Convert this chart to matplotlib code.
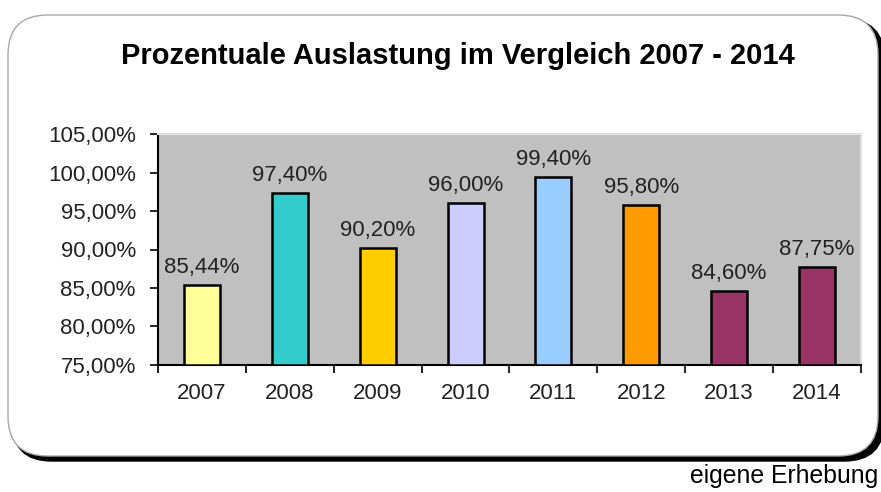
import matplotlib
matplotlib.use('Agg')
import matplotlib.pyplot as plt
from matplotlib.patches import FancyBboxPatch
import numpy as np

# Daten aus dem Bild
jahre = ['2007', '2008', '2009', '2010', '2011', '2012', '2013', '2014']
auslastung = [85.44, 97.40, 90.20, 96.00, 99.40, 95.80, 84.60, 87.75]
farben = ['#FFFF99', '#33CCCC', '#FFCC00', '#CCCCFF', '#99CCFF', '#FF9900', '#993366', '#993366']
y_ticks = [75, 80, 85, 90, 95, 100, 105]

plt.rcParams['font.family'] = ['Liberation Sans', 'DejaVu Sans']

W, H = 881, 492
fig = plt.figure(figsize=(W / 100, H / 100), dpi=100)
fig.patch.set_facecolor('white')

# Rahmen mit Schatten (Karte)
shadow = FancyBboxPatch((12 / W, 1 - 461 / H), 872 / W, 442 / H,
                        boxstyle='round,pad=0,rounding_size=0.045', transform=fig.transFigure,
                        facecolor='black', edgecolor='black', zorder=0, mutation_aspect=W / H)
card = FancyBboxPatch((8 / W, 1 - 456 / H), 870 / W, 441 / H,
                      boxstyle='round,pad=0,rounding_size=0.045', transform=fig.transFigure,
                      facecolor='white', edgecolor='#A8A8A8', linewidth=1, zorder=1,
                      mutation_aspect=W / H)
fig.patches.extend([shadow, card])

ax = fig.add_axes([158 / W, 1 - 365 / H, (861 - 158) / W, (365 - 134) / H])
ax.set_zorder(2)
ax.set_facecolor('#C0C0C0')

x = np.arange(len(jahre))
ax.bar(x, [v - 75 for v in auslastung], bottom=75, width=0.41, color=farben,
       edgecolor='black', linewidth=1.8, zorder=3)

for xi, v in zip(x, auslastung):
    ax.text(xi, v + 0.9, f'{v:.2f}%'.replace('.', ','), ha='center', va='bottom',
            fontsize=16, color='#222222', zorder=4)

ax.set_xlim(-0.5, len(jahre) - 0.5)
ax.set_ylim(75, 105)
ax.set_yticks(y_ticks)
ax.set_yticklabels([f'{t:.2f}%'.replace('.', ',') for t in y_ticks], fontsize=16, color='#222222')
ax.set_xticks(x)
ax.set_xticklabels(jahre, fontsize=16, color='#222222')
ax.set_xticks(np.arange(-0.5, len(jahre)), minor=True)
ax.tick_params(axis='x', which='major', length=0, pad=13)
ax.tick_params(axis='x', which='minor', length=6, width=1.2, direction='out')
ax.tick_params(axis='y', which='major', length=6, width=1.2, direction='out', pad=10)

for s in ['left', 'bottom']:
    ax.spines[s].set_color('black')
    ax.spines[s].set_linewidth(1.5)
for s in ['top', 'right']:
    ax.spines[s].set_color('#E0E0E0')
    ax.spines[s].set_linewidth(1.5)

fig.text(458 / W, 1 - 56 / H, 'Prozentuale Auslastung im Vergleich 2007 - 2014',
         ha='center', va='center', fontsize=21, fontweight='bold', color='black')

fig.text(878 / W, 1 - 483 / H, 'eigene Erhebung', ha='right', va='baseline',
         fontsize=17.8, color='black')

fig.savefig('out.png', dpi=100)
